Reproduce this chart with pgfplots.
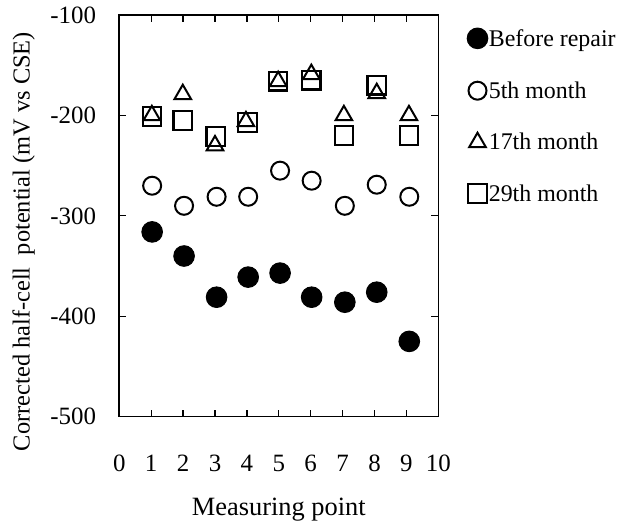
\documentclass[border=0pt]{standalone}
\usepackage{fontspec}
\setmainfont{Liberation Serif}
\usepackage{pgfplots}
\pgfplotsset{compat=1.18}
\begin{document}
\begin{tikzpicture}[x=1bp,y=1bp]
\path[use as bounding box] (-119.3,-109.3) rectangle (498.7,416.7);
\begin{axis}[
  scale only axis, width=319bp, height=401.7bp,
  xmin=0, xmax=10, ymin=-500, ymax=-100,
  xtick={0,1,2,3,4,5,6,7,8,9,10},
  xticklabels={0,1,2,3,4,5,6,7,8,9,10},
  ytick={-500,-400,-300,-200,-100},
  yticklabels={-500,-400,-300,-200,-100},
  tick align=inside, major tick length=7bp,
  tick style={black, line width=1.3bp},
  axis line style={black, line width=1.6bp},
  x tick label style={font=\fontsize{25}{28}\selectfont, inner sep=0pt, anchor=north, yshift=-38bp},
  y tick label style={font=\fontsize{25}{28}\selectfont, inner sep=0pt, anchor=east, xshift=-23bp},
  xlabel={Measuring point},
  xlabel style={font=\fontsize{26.5}{30}\selectfont, at={(axis description cs:0.5,0)}, anchor=center, yshift=-93bp, inner sep=0pt},
  ylabel={Corrected half-cell~ potential (mV vs CSE)},
  ylabel style={font=\fontsize{24.5}{28}\selectfont, at={(axis description cs:-0.3,0.436)}, anchor=center, inner sep=0pt},
  legend style={draw=none, fill=none, at={(axis description cs:1.09,0.968)}, anchor=north west,
    font=\fontsize{24}{28}\selectfont, row sep=33bp, inner sep=0pt,
    nodes={inner xsep=1bp, inner ysep=0pt}},
  legend cell align=left,
  legend image code/.code={\draw[#1,only marks] plot coordinates {(0,0)};},
  clip=false,
]
\addplot[only marks, mark=*, mark size=10.3bp, black, line width=1pt] coordinates {
(1.03,-316) (2.03,-340) (3.05,-381) (4.04,-361) (5.04,-357) (6.03,-381) (7.07,-386) (8.07,-376) (9.09,-425)};
\addlegendentry{Before repair}
\addplot[only marks, mark=o, mark size=9bp, black, line width=2bp] coordinates {
(1.03,-270) (2.03,-290) (3.05,-281) (4.04,-281) (5.04,-255) (6.03,-265) (7.07,-290) (8.07,-269) (9.09,-281)};
\addlegendentry{5th month}
\addplot[only marks, mark=triangle, mark size=9.6bp, black, line width=2bp] coordinates {
(1.02,-200) (1.99,-179) (3.0,-230) (3.97,-206) (4.98,-166) (6.02,-159) (7.04,-200) (8.07,-178) (9.08,-200)};
\addlegendentry{17th month}
\addplot[only marks, mark=square, mark size=9.2bp, black, line width=2.2bp] coordinates {
(1.02,-201) (1.99,-205) (3.02,-221) (4.02,-207) (4.98,-166) (6.02,-165) (7.04,-220) (8.07,-170) (9.08,-220)};
\addlegendentry{29th month}
\end{axis}
\end{tikzpicture}
\end{document}
